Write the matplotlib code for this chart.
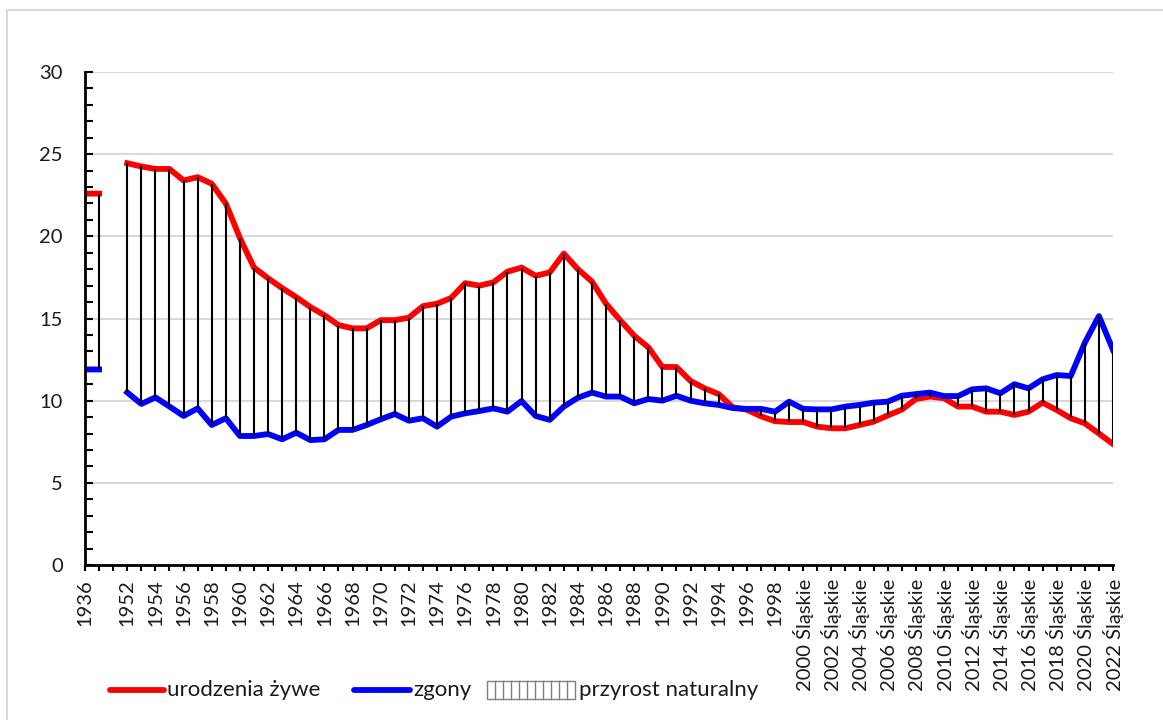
import numpy as np
import matplotlib
matplotlib.use('Agg')
import matplotlib.pyplot as plt
from matplotlib.lines import Line2D
from matplotlib.patches import Rectangle

plt.rcParams['font.family'] = ['Lato', 'DejaVu Sans']

# Category labels: 1936, two spare slots, then 1952-2022
years = [1936, None, None] + list(range(1952, 2023))
labels = ['1936', '', ''] + [str(y) for y in range(1952, 2000)] + \
         [f'{y} Śląskie' for y in range(2000, 2023)]

# Rates per 1000 population
births = [22.6, 22.6, np.nan,
          24.45, 24.25, 24.1, 24.1, 23.4, 23.6, 23.2, 22.0,          # 1952-1959
          19.9, 18.1, 17.45, 16.85, 16.3, 15.7, 15.2, 14.6, 14.4, 14.4,  # 1960-1969
          14.9, 14.9, 15.05, 15.75, 15.9, 16.25, 17.15, 17.0, 17.2, 17.85,  # 1970-1979
          18.1, 17.6, 17.8, 18.95, 18.0, 17.25, 15.9, 14.9, 13.95, 13.25,  # 1980-1989
          12.05, 12.05, 11.2, 10.75, 10.4, 9.6, 9.45, 9.05, 8.75, 8.7,   # 1990-1999
          8.7, 8.42, 8.32, 8.32, 8.52, 8.72, 9.1, 9.45, 10.1, 10.25,    # 2000-2009
          10.15, 9.64, 9.64, 9.33, 9.33, 9.13, 9.33, 9.88, 9.43, 8.93,  # 2010-2019
          8.62, 8.0, 7.36]                                            # 2020-2022

deaths = [11.9, 11.9, np.nan,
          10.5, 9.8, 10.2, 9.64, 9.07, 9.53, 8.52, 8.93,             # 1952-1959
          7.85, 7.85, 7.97, 7.65, 8.05, 7.6, 7.65, 8.22, 8.22, 8.52,   # 1960-1969
          8.87, 9.19, 8.78, 8.93, 8.42, 9.03, 9.23, 9.37, 9.53, 9.33,  # 1970-1979
          9.98, 9.07, 8.83, 9.64, 10.18, 10.49, 10.25, 10.25, 9.84, 10.1,  # 1980-1989
          10.0, 10.3, 10.0, 9.84, 9.74, 9.55, 9.5, 9.5, 9.33, 9.94,    # 1990-1999
          9.5, 9.47, 9.47, 9.64, 9.74, 9.88, 9.94, 10.3, 10.4, 10.49,  # 2000-2009
          10.28, 10.28, 10.69, 10.75, 10.45, 11.0, 10.75, 11.3, 11.56, 11.5,  # 2010-2019
          13.53, 15.15, 13.09]                                        # 2020-2022

W, H = 1163, 720
fig = plt.figure(figsize=(W / 100, H / 100), dpi=100)
ax = fig.add_axes([85 / W, 1 - 565 / H, (1113 - 85) / W, (565 - 72) / H])

x = np.arange(len(labels))
b = np.array(births, dtype=float)
d = np.array(deaths, dtype=float)

# gridlines
for g in range(5, 31, 5):
    ax.axhline(g, color='#d9d9d9', lw=1.5, zorder=0)

ax.plot(x, b, color='#ff0000', lw=4.2, solid_joinstyle='round', zorder=3)
ax.plot(x, d, color='#0000ff', lw=4.2, solid_joinstyle='round', zorder=4)

# high-low lines (natural increase)
ok = ~np.isnan(b)
ax.vlines(x[ok], np.minimum(b, d)[ok], np.maximum(b, d)[ok], color='black', lw=1.5, zorder=5)

ax.set_xlim(0, len(labels) - 1)
ax.set_ylim(0, 30)

ax.set_yticks(range(0, 31, 5))
ax.set_yticks(range(0, 31), minor=True)
ax.tick_params(axis='y', which='both', direction='in', length=6, width=1.5,
               labelsize=14.5, pad=16, labelcolor='#1a1a1a')

shown = [lab if (y == 1936 or (y is not None and y % 2 == 0)) else '' for y, lab in zip(years, labels)]
ax.set_xticks(x)
ax.set_xticklabels(shown, rotation=90, fontsize=14.5, color='#1a1a1a')
ax.tick_params(axis='x', direction='out', length=4, width=1.5, pad=6)

for s in ['top', 'right']:
    ax.spines[s].set_visible(False)
for s in ['left', 'bottom']:
    ax.spines[s].set_linewidth(2)
    ax.spines[s].set_zorder(6)

# chart area border
fig.patches.append(Rectangle((7 / W, -0.1), 1.2, 1 - 10 / H + 0.1, transform=fig.transFigure,
                             fill=False, edgecolor='#d9d9d9', lw=1.5))

# legend drawn by hand
ly = 1 - 690 / H
fig.add_artist(Line2D([110 / W, 164 / W], [ly, ly], color='#ff0000', lw=4.2, solid_capstyle='round'))
fig.text(167 / W, ly, 'urodzenia żywe', fontsize=16, va='center', color='#1a1a1a')
fig.add_artist(Line2D([354 / W, 410 / W], [ly, ly], color='#0000ff', lw=4.2, solid_capstyle='round'))
fig.text(413 / W, ly, 'zgony', fontsize=16, va='center', color='#1a1a1a')
bx0, bx1, bh = 487, 575, 18
fig.patches.append(Rectangle((bx0 / W, ly - bh / 2 / H), (bx1 - bx0) / W, bh / H,
                             transform=fig.transFigure, fill=False, edgecolor='#7f7f7f', lw=1))
for lx in np.linspace(bx0, bx1, 12)[1:-1]:
    fig.add_artist(Line2D([lx / W, lx / W], [ly - bh / 2 / H, ly + bh / 2 / H], color='#7f7f7f', lw=1))
fig.text(579 / W, ly, 'przyrost naturalny', fontsize=16, va='center', color='#1a1a1a')

fig.savefig('out.png', dpi=100, facecolor='white')
